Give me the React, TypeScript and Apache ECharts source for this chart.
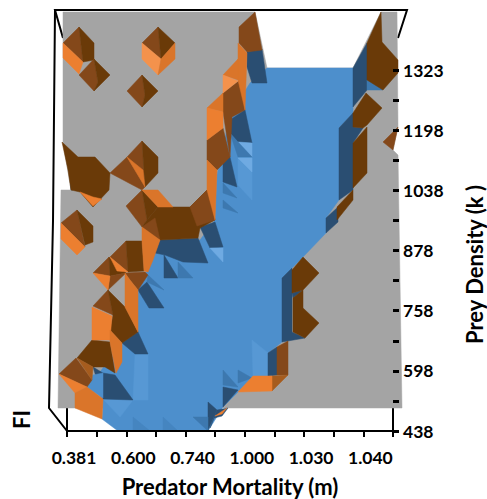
import React, { useEffect, useRef } from "react";
import * as echarts from "echarts";

const mortalityLabels = ["0.381", "", "0.600", "", "0.740", "", "1.000", "", "1.030", "", "1.040", ""];
const densityLabels = ["438", "", "598", "", "758", "", "878", "", "1038", "", "1198", "", "1323"];

const X_MAX = 326;
const Y_MAX = 361;
const X_STEP = X_MAX / 11;
const Y_STEP = Y_MAX / 12;

const GRAY = "#A4A4A4";
const BLUE = "#4D8FCC";
const BLUE_LIGHT = "#6FAAE2";
const BLUE_SOFT = "#5798D4";
const BLUE_TINT = "#4585C0";
const BLUE_MID = "#3D78AF";
const BLUE_DARK = "#2A4E72";
const BROWN_DARK = "#6A3A08";
const BROWN = "#84481A";
const BROWN_SOFT = "#A65C1E";
const ORANGE = "#EC7F30";
const ORANGE_LIGHT = "#F4924C";
const ORANGE_DARK = "#DA752A";

type Facet = [string, number[]];

const frameLines: number[][] = [
  [-4, 393, -12, 421, 340, 421, 331, 393],
  [-12, 421, -14, 210, -18, 23, 0, 0],
  [0, 23, 0, 0],
  [326, 23, 326, 0],
];

const baseFacets: Facet[] = [
  [GRAY, [-4, 419, 188, 419, 200, 363, 286, 363, 314, 419, 330, 419, 331, 304, 326, 281, 331, 276, 335, 23, -9, 23, -6, 241, 4, 241, -4, 289]],
  [BLUE, [183, 348, 200, 363, 286, 363, 286, 318, 272, 303, 272, 231, 259, 213, 259, 198, 236, 174, 225, 163, 215, 153, 215, 89, 201, 78, 201, 55, 186, 55, 171, 39, 156, 24, 141, 0, 51, 0, 35, 12, 36, 32, 23, 46, 55, 88, 71, 101, 71, 141, 88, 178, 98, 191, 133, 191, 148, 211, 150, 256, 163, 316]],
];

const blueFacets: Facet[] = [
  [BLUE_SOFT, [185, 91, 201, 78, 201, 55, 186, 55]],
  [BLUE_SOFT, [68, 77, 81, 77, 81, 31, 66, 31]],
  [BLUE_SOFT, [36, 32, 66, 31, 53, 14]],
  [BLUE_TINT, [66, 14, 83, 0, 66, 0]],
  [BLUE_TINT, [96, 14, 111, 0, 96, 0]],
  [BLUE_DARK, [180, 379, 195, 382, 200, 348, 185, 348, 180, 364]],
  [BLUE_DARK, [286, 363, 300, 388, 300, 341, 286, 324]],
  [BLUE_MID, [300, 351, 308, 351, 316, 341, 300, 341]],
  [BLUE_DARK, [272, 303, 286, 318, 286, 304, 296, 303, 286, 288, 286, 241, 272, 231]],
  [BLUE_DARK, [259, 213, 271, 224, 271, 209, 259, 198]],
  [BLUE_DARK, [215, 153, 225, 163, 225, 99, 238, 93, 215, 89]],
  [BLUE_DARK, [225, 138, 236, 141, 226, 133]],
  [BLUE_DARK, [201, 78, 210, 84, 210, 56, 201, 55]],
  [BLUE_DARK, [55, 88, 71, 99, 81, 77, 68, 77]],
  [BLUE_DARK, [71, 141, 80, 149, 97, 123, 82, 123]],
  [BLUE_MID, [81, 156, 97, 141, 80, 149]],
  [BLUE_DARK, [93, 191, 131, 193, 141, 168, 116, 169, 98, 176, 88, 178]],
  [BLUE_DARK, [97, 176, 111, 153, 97, 153]],
  [BLUE_MID, [111, 169, 126, 153, 111, 153]],
  [BLUE_DARK, [133, 204, 148, 209, 156, 184, 143, 183]],
  [BLUE_LIGHT, [143, 183, 156, 183, 156, 169]],
  [BLUE_DARK, [163, 311, 178, 321, 185, 288, 171, 289, 163, 298]],
  [BLUE_LIGHT, [171, 289, 185, 288, 185, 274]],
  [BLUE_MID, [163, 298, 171, 289, 185, 274, 171, 274]],
  [BLUE_DARK, [156, 273, 163, 274, 170, 244, 156, 249]],
  [BLUE_SOFT, [171, 273, 185, 273, 185, 231, 171, 246]],
  [BLUE_LIGHT, [171, 273, 185, 273, 185, 259]],
  [BLUE_MID, [156, 248, 170, 233, 156, 238]],
  [BLUE_MID, [156, 231, 171, 218, 156, 223]],
  [BLUE_MID, [156, 61, 171, 44, 156, 46]],
  [BLUE_DARK, [156, 44, 171, 41, 156, 24]],
  [BLUE_MID, [171, 61, 185, 53, 171, 48]],
  [BLUE_DARK, [141, 29, 150, 21, 141, 1]],
  [BLUE_MID, [126, 14, 141, 14, 141, 0]],
  [BLUE_DARK, [143, 3, 150, 21, 161, 23, 155, 15, 147, 13]],
  [BLUE_DARK, [26, 64, 36, 58, 48, 56, 66, 31, 36, 32]],
  [BLUE, [20, 44, 26, 56, 36, 58, 36, 33]],
  [BLUE_DARK, [3, 254, 6, 241, 4, 241]],
  [BLUE_DARK, [14, 239, 35, 232, 29, 231]],
];

const brownFacets: Facet[] = [
  [BROWN, [-4, 388, 12, 404, 16, 369]],
  [BROWN_DARK, [12, 404, 27, 388, 27, 371, 16, 369]],
  [BROWN, [12, 356, 27, 372, 31, 349, 27, 340]],
  [BROWN_DARK, [27, 372, 43, 356, 27, 340, 31, 349]],
  [BROWN, [75, 388, 91, 404, 94, 372]],
  [BROWN_DARK, [91, 404, 108, 388, 94, 372]],
  [BROWN, [60, 340, 75, 356, 78, 336, 75, 324]],
  [BROWN_DARK, [75, 356, 91, 340, 75, 324, 78, 336]],
  [BROWN_DARK, [-5, 289, 11, 274, 28, 274, 43, 258, 42, 241, 26, 224, 13, 239, 4, 241, 1, 261]],
  [BROWN, [60, 274, 75, 290, 78, 244]],
  [BROWN_DARK, [75, 290, 91, 274, 91, 258, 78, 244]],
  [BROWN, [43, 258, 60, 274, 78, 244, 75, 241]],
  [BROWN, [59, 225, 75, 241, 80, 211, 75, 204]],
  [BROWN_DARK, [75, 241, 91, 224, 80, 211]],
  [BROWN_DARK, [91, 224, 123, 224, 140, 241, 148, 211, 133, 203, 131, 193, 93, 191, 75, 204, 80, 211]],
  [BROWN, [123, 224, 140, 241, 148, 211, 130, 205]],
  [BROWN, [75, 204, 88, 213, 93, 191]],
  [BROWN, [-6, 208, 10, 221, 18, 184]],
  [BROWN_DARK, [10, 221, 26, 205, 26, 189, 18, 186]],
  [BROWN, [43, 174, 59, 190, 61, 159]],
  [BROWN_DARK, [59, 190, 75, 190, 77, 160, 61, 159]],
  [BROWN, [26, 158, 42, 174, 43, 155]],
  [BROWN_DARK, [42, 174, 59, 158, 43, 155]],
  [BROWN, [43, 155, 59, 158, 41, 141]],
  [BROWN, [58, 158, 78, 159, 81, 156, 71, 141, 63, 151]],
  [BROWN, [26, 125, 41, 141, 46, 116]],
  [BROWN_DARK, [41, 141, 58, 124, 71, 99, 55, 88, 43, 101, 46, 116]],
  [BROWN_DARK, [25, 91, 43, 89, 48, 58, 38, 64, 26, 64, 10, 73]],
  [BROWN, [-8, 57, 9, 73, 25, 51, 20, 44]],
  [BROWN_SOFT, [10, 73, 26, 64, 25, 51]],
  [BROWN, [172, 404, 188, 419, 195, 381, 180, 379, 172, 388]],
  [BROWN, [156, 338, 173, 351, 178, 321, 165, 314, 163, 274, 156, 319]],
  [BROWN, [140, 291, 156, 303, 163, 274, 150, 261, 140, 271]],
  [BROWN_DARK, [314, 419, 300, 388, 300, 351, 316, 341, 331, 358, 331, 371, 315, 389]],
  [BROWN_DARK, [286, 318, 299, 338, 315, 323, 300, 306, 296, 303, 286, 304]],
  [BROWN_DARK, [286, 288, 300, 304, 300, 258, 286, 243]],
  [BROWN_DARK, [286, 241, 270, 224, 270, 211, 286, 231]],
  [BROWN, [331, 304, 316, 289, 326, 281]],
  [BROWN_DARK, [225, 161, 236, 174, 252, 158, 236, 141, 225, 138]],
  [BROWN_DARK, [226, 133, 236, 141, 236, 123, 252, 108, 238, 93, 226, 99]],
  [BROWN, [210, 84, 221, 90, 221, 56, 210, 56]],
  [BROWN_SOFT, [205, 55, 221, 56, 205, 40]],
];

const orangeFacets: Facet[] = [
  [ORANGE, [-4, 388, 16, 369, 12, 357, -4, 373]],
  [ORANGE_LIGHT, [75, 388, 94, 372, 91, 356, 75, 372]],
  [ORANGE_DARK, [94, 372, 108, 388, 108, 372, 91, 356]],
  [ORANGE, [13, 239, 26, 234, 35, 232, 26, 225]],
  [ORANGE_DARK, [60, 274, 76, 261, 78, 244]],
  [ORANGE_DARK, [75, 241, 91, 241, 106, 224, 91, 224]],
  [ORANGE_DARK, [75, 204, 93, 191, 86, 171, 81, 159, 77, 160, 75, 190]],
  [ORANGE, [-6, 208, 18, 184, 10, 176, -6, 192]],
  [ORANGE, [26, 158, 43, 155, 41, 141]],
  [ORANGE, [43, 174, 61, 159, 50, 160]],
  [ORANGE_DARK, [58, 158, 63, 151, 71, 141, 71, 99, 58, 124]],
  [ORANGE, [25, 124, 45, 115, 43, 91, 25, 91]],
  [ORANGE_DARK, [43, 101, 55, 88, 55, 69, 49, 58, 43, 89]],
  [ORANGE, [-8, 57, 20, 44, 8, 38]],
  [ORANGE_DARK, [8, 38, 20, 44, 36, 32, 35, 12, 8, 23]],
  [ORANGE_DARK, [171, 388, 180, 378, 178, 321, 171, 351]],
  [ORANGE_DARK, [156, 356, 171, 372, 171, 351]],
  [ORANGE_LIGHT, [156, 356, 171, 350, 156, 338]],
  [ORANGE_DARK, [140, 323, 156, 338, 156, 319]],
  [ORANGE, [140, 323, 156, 319, 156, 303, 140, 291]],
  [ORANGE_DARK, [140, 271, 140, 241, 148, 211, 150, 261]],
  [ORANGE, [186, 55, 205, 55, 205, 40, 171, 39]],
  [ORANGE, [160, 23, 148, 15, 155, 17]],
];

const facets: Facet[] = [...baseFacets, ...blueFacets, ...brownFacets, ...orangeFacets];

function toPoints(flat: number[], api: any) {
  const pts: number[][] = [];
  for (let i = 0; i < flat.length; i += 2) pts.push(api.coord([flat[i], flat[i + 1]]));
  return pts;
}

const FONT = "Lato";

export default function App() {
  const ref = useRef<HTMLDivElement>(null);
  useEffect(() => {
    const chart = echarts.init(ref.current!, undefined, { renderer: "svg", width: 487, height: 499 });
    chart.setOption({
      animation: false,
      backgroundColor: "#ffffff",
      grid: { left: 67, right: 94, top: 70, bottom: 68, outerBoundsMode: "none" },
      xAxis: {
        type: "value",
        min: 0,
        max: X_MAX,
        interval: X_STEP,
        z: 10,
        name: "Predator Mortality (m)",
        nameLocation: "middle",
        nameGap: 44,
        nameTextStyle: { fontFamily: FONT, fontWeight: "bold", fontSize: 22, color: "#000" },
        splitLine: { show: false },
        axisLine: { show: true, onZero: false, lineStyle: { color: "#000", width: 2 } },
        axisTick: { show: true, length: 6, lineStyle: { color: "#000", width: 2 } },
        axisLabel: {
          margin: 17,
          padding: [0, 0, 0, 14],
          fontFamily: FONT,
          fontWeight: "bold",
          fontSize: 17.5,
          color: "#000",
          showMaxLabel: true,
          formatter: (v: number) => mortalityLabels[Math.round(v / X_STEP)] ?? "",
        },
      },
      yAxis: {
        type: "value",
        position: "right",
        min: 0,
        max: Y_MAX,
        interval: Y_STEP,
        z: 10,
        name: "Prey Density (k )",
        nameLocation: "middle",
        nameRotate: 90,
        nameGap: 70,
        nameTextStyle: { fontFamily: FONT, fontWeight: "bold", fontSize: 22, color: "#000", padding: [0, 28, 0, 0] },
        splitLine: { show: false },
        axisLine: { show: false, onZero: false },
        axisTick: { show: true, length: 6, lineStyle: { color: "#000", width: 3 } },
        axisLabel: {
          margin: 10,
          align: "left",
          fontFamily: FONT,
          fontWeight: "bold",
          fontSize: 17.5,
          color: "#000",
          formatter: (v: number) => densityLabels[Math.round(v / Y_STEP)] ?? "",
        },
      },
      graphic: [
        {
          type: "text",
          x: 10,
          y: 429,
          rotation: Math.PI / 2,
          style: { text: "FI", fontFamily: FONT, fontWeight: "bold", fontSize: 22, fill: "#000" },
        },
      ],
      series: [
        {
          type: "custom",
          coordinateSystem: "cartesian2d",
          clip: false,
          silent: true,
          z: 1,
          data: frameLines.map((l) => [l[0], l[1]]),
          renderItem: (params: any, api: any) => ({
            type: "polyline",
            shape: { points: toPoints(frameLines[params.dataIndex], api) },
            style: { stroke: "#000", lineWidth: 2, fill: "none" },
          }),
        },
        {
          type: "custom",
          coordinateSystem: "cartesian2d",
          clip: false,
          silent: true,
          z: 2,
          data: facets.map((f) => [f[1][0], f[1][1]]),
          renderItem: (params: any, api: any) => {
            const [fill, flat] = facets[params.dataIndex];
            return {
              type: "polygon",
              shape: { points: toPoints(flat, api) },
              style: { fill, stroke: fill, lineWidth: 0.5 },
            };
          },
        },
      ],
    });
    return () => chart.dispose();
  }, []);
  return <div ref={ref} style={{ position: "fixed", left: 0, top: 0, width: 487, height: 499 }} />;
}
